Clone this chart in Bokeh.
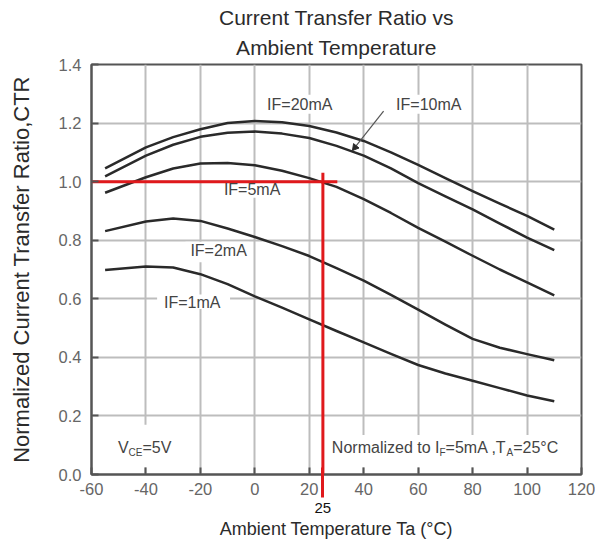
from bokeh.plotting import figure
from bokeh.models import Label, Title, FixedTicker, NumeralTickFormatter, Range1d, LinearAxis
from bokeh.embed import file_html
from bokeh.resources import INLINE

# ---- data ----
TEMP = [-55, -40, -30, -20, -10, 0, 10, 20, 30, 40, 50, 60, 70, 80, 90, 100, 110]
CTR_IF20 = [1.045, 1.117, 1.152, 1.179, 1.200, 1.207, 1.203, 1.190, 1.168, 1.139, 1.100, 1.057, 1.012, 0.968, 0.925, 0.883, 0.836]
CTR_IF10 = [1.018, 1.089, 1.126, 1.153, 1.167, 1.171, 1.164, 1.149, 1.122, 1.089, 1.045, 0.995, 0.950, 0.905, 0.857, 0.809, 0.766]
CTR_IF5 = [0.962, 1.015, 1.045, 1.062, 1.064, 1.056, 1.037, 1.012, 0.982, 0.940, 0.893, 0.842, 0.795, 0.747, 0.700, 0.656, 0.612]
CTR_IF2 = [0.831, 0.864, 0.874, 0.866, 0.840, 0.811, 0.780, 0.746, 0.705, 0.662, 0.613, 0.563, 0.512, 0.463, 0.433, 0.411, 0.390]
CTR_IF1 = [0.698, 0.710, 0.707, 0.684, 0.650, 0.608, 0.570, 0.530, 0.490, 0.451, 0.412, 0.374, 0.345, 0.320, 0.295, 0.270, 0.250]
X_TICKS = [-60, -40, -20, 0, 20, 40, 60, 80, 100, 120]
Y_TICKS = [0.0, 0.2, 0.4, 0.6, 0.8, 1.0, 1.2, 1.4]
REF_TEMP = 25
REF_CTR = 1.0

FONT = "Liberation Sans"
INK = "#2a2a2a"
RED = "#e0191c"
GUIDE = "#555555"

p = figure(width=595, height=545, x_range=Range1d(-60, 120), y_range=Range1d(0, 1.4),
           output_backend="svg", toolbar_location=None,
           min_border_left=91, min_border_right=14, min_border_top=64, min_border_bottom=71)

p.title.text = "Current Transfer Ratio vs"
p.title.align = "center"
p.title.text_font = FONT
p.title.text_font_size = "21px"
p.title.text_font_style = "normal"
p.title.text_color = "#2b2b2b"
p.title.standoff = 0
p.add_layout(Title(text="Ambient Temperature", align="center", text_font=FONT,
                   text_font_size="21px", text_font_style="normal", text_color="#2b2b2b",
                   standoff=11), "above")

p.outline_line_color = GUIDE
p.outline_line_width = 2

p.xaxis.ticker = FixedTicker(ticks=X_TICKS)
p.xaxis.major_label_overrides = {-60: "-60", -40: "-40", -20: "-20"}
p.yaxis.ticker = FixedTicker(ticks=Y_TICKS)
p.yaxis.formatter = NumeralTickFormatter(format="0.0")
for ax in (p.xaxis, p.yaxis):
    ax.major_tick_in = 7
    ax.major_tick_out = 0
    ax.minor_tick_in = 0
    ax.minor_tick_out = 0
    ax.major_tick_line_color = GUIDE
    ax.major_tick_line_width = 2
    ax.axis_line_color = GUIDE
    ax.axis_line_width = 2
    ax.major_label_text_font = FONT
    ax.major_label_text_font_size = "16.5px"
    ax.major_label_text_color = "#666666"
    ax.axis_label_text_font = FONT
    ax.axis_label_text_font_style = "normal"
    ax.axis_label_text_color = "#2b2b2b"

p.xaxis.major_label_standoff = 8
p.yaxis.axis_label = "Normalized Current Transfer Ratio,CTR"
p.yaxis.axis_label_text_font_size = "22px"
p.yaxis.major_label_standoff = 10
p.yaxis.axis_label_standoff = 22

# second bottom axis carrying the "25" mark and the axis title
ax25 = LinearAxis(ticker=FixedTicker(ticks=[REF_TEMP]), axis_line_color=None,
                  major_tick_in=30, major_tick_out=0, minor_tick_in=0, minor_tick_out=0,
                  major_tick_line_color=RED, major_tick_line_width=3,
                  major_label_standoff=5, major_label_text_font=FONT,
                  major_label_text_font_size="15px", major_label_text_color="#111111",
                  axis_label="Ambient Temperature Ta (°C)", axis_label_text_font=FONT,
                  axis_label_text_font_size="18px", axis_label_text_font_style="normal",
                  axis_label_text_color="#2b2b2b", axis_label_standoff=3)
p.add_layout(ax25, "below")

p.grid.grid_line_color = "#bdbdbd"
p.grid.grid_line_width = 2
p.xgrid.ticker = FixedTicker(ticks=X_TICKS)
p.ygrid.ticker = FixedTicker(ticks=Y_TICKS)

# white boxes behind the annotation texts (hide the grid there)
BOX_X0 = [2.8, 50.1, -12.7, -25.5, -35.9, -51.7, 27.0]
BOX_X1 = [30.0, 77.7, 11.2, -2.0, -9.1, -28.9, 114.5]
BOX_Y0 = [1.232, 1.232, 0.945, 0.725, 0.565, 0.025, 0.025]
BOX_Y1 = [1.297, 1.297, 0.995, 0.795, 0.615, 0.170, 0.135]
p.quad(left=BOX_X0, right=BOX_X1, bottom=BOX_Y0, top=BOX_Y1,
       fill_color="white", line_color=None)

for ys in (CTR_IF20, CTR_IF10, CTR_IF5, CTR_IF2, CTR_IF1):
    p.line(TEMP, ys, line_color=INK, line_width=2.5, line_join="round")

# red reference cross
p.segment(x0=[-62], y0=[REF_CTR], x1=[30.3], y1=[REF_CTR], line_color=RED, line_width=3)
p.segment(x0=[REF_TEMP], y0=[1.03], x1=[REF_TEMP], y1=[-0.05], line_color=RED, line_width=3)

# curve labels
lab = dict(text_font=FONT, text_font_size="16px", text_color="#444444",
           text_align="center", text_baseline="middle")
p.add_layout(Label(x=16.5, y=1.265, text="IF=20mA", **lab))
p.add_layout(Label(x=63.9, y=1.265, text="IF=10mA", **lab))
p.add_layout(Label(x=-1.0, y=0.974, text="IF=5mA", **lab))
p.add_layout(Label(x=-13.3, y=0.764, text="IF=2mA", **lab))
p.add_layout(Label(x=-23.0, y=0.588, text="IF=1mA", **lab))

# pointer for IF=10mA
p.segment(x0=[47.3], y0=[1.241], x1=[37.2], y1=[1.122], line_color="#555555", line_width=1.2)
p.scatter(x=[36.8], y=[1.117], marker="triangle", size=7, angle=2.46,
          fill_color=INK, line_color=INK)

# V_CE=5V
base = dict(text_font=FONT, text_color="#444444", text_baseline="middle", text_align="left")
p.add_layout(Label(x=-50.3, y=0.093, text="V", text_font_size="16px", **base))
p.add_layout(Label(x=-50.3, y=0.093, x_offset=10.7, y_offset=-5, text="CE", text_font_size="10px", **base))
p.add_layout(Label(x=-50.3, y=0.093, x_offset=24.5, text="=5V", text_font_size="16px", **base))

# Normalized to I_F=5mA ,T_A=25°C
nx = 28.3
p.add_layout(Label(x=nx, y=0.093, text="Normalized to I", text_font_size="16px", **base))
p.add_layout(Label(x=nx, y=0.093, x_offset=107.6, y_offset=-5, text="F", text_font_size="10px", **base))
p.add_layout(Label(x=nx, y=0.093, x_offset=113.7, text="=5mA ,T", text_font_size="16px", **base))
p.add_layout(Label(x=nx, y=0.093, x_offset=174.6, y_offset=-5, text="A", text_font_size="10px", **base))
p.add_layout(Label(x=nx, y=0.093, x_offset=181.3, text="=25°C", text_font_size="16px", **base))

open("out.html", "w").write(file_html(p, INLINE))
